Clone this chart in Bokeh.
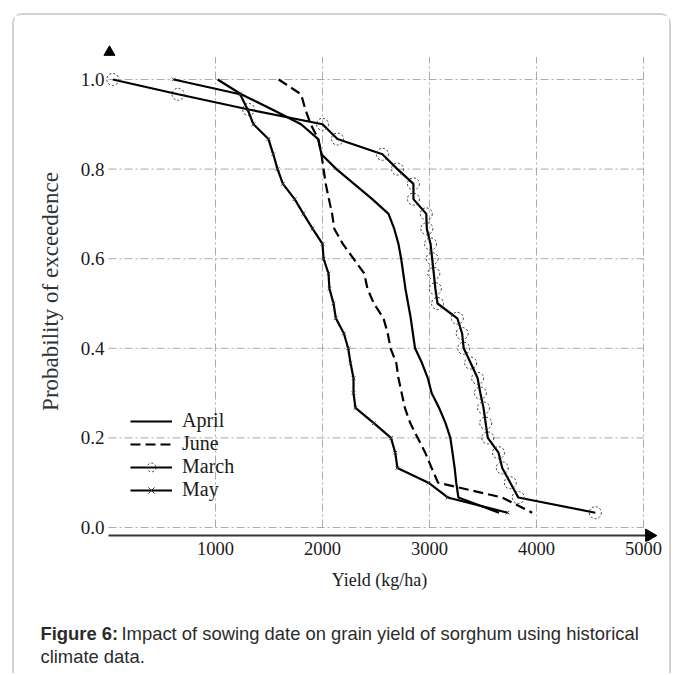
from bokeh.plotting import figure
from bokeh.models import Range1d, FixedTicker, Legend, LegendItem
from bokeh.core.properties import value
from bokeh.embed import file_html
from bokeh.resources import INLINE
import math

# ---------------- data ----------------
prob = [1.0, 0.967, 0.933, 0.9, 0.867, 0.833, 0.8, 0.767, 0.733, 0.7,
        0.667, 0.633, 0.6, 0.567, 0.533, 0.5, 0.467, 0.433, 0.4, 0.367,
        0.333, 0.3, 0.267, 0.233, 0.2, 0.167, 0.133, 0.1, 0.067, 0.033]

march = [40, 650, 1310, 2000, 2140, 2560, 2700, 2850, 2850, 2970,
         2975, 3010, 3025, 3040, 3055, 3075, 3260, 3305, 3320, 3385,
         3450, 3475, 3505, 3525, 3545, 3645, 3680, 3755, 3830, 4550]

april = [1020, 1240, 1530, 1800, 1960, 1990, 2130, 2295, 2465, 2617,
         2670, 2710, 2735, 2755, 2775, 2800, 2825, 2845, 2865, 2930,
         2985, 3020, 3090, 3150, 3195, 3215, 3235, 3250, 3270, 3650]

may = [610, 1230, 1300, 1355, 1495, 1540, 1580, 1630, 1740, 1822,
       1907, 2000, 2010, 2056, 2065, 2103, 2125, 2200, 2240, 2262,
       2290, 2290, 2308, 2480, 2640, 2680, 2700, 2990, 3170, 3730]

june = [1590, 1800, 1840, 1890, 1960, 1990, 2010, 2030, 2060, 2090,
        2110, 2190, 2290, 2390, 2420, 2480, 2570, 2610, 2636, 2690,
        2710, 2740, 2770, 2820, 2890, 2960, 3020, 3080, 3680, 3960]

x_ticks = [1000, 2000, 3000, 4000, 5000]
y_ticks = [0.0, 0.2, 0.4, 0.6, 0.8, 1.0]
y_tick_labels = {0.0: "0.0", 0.2: "0.2", 0.4: "0.4", 0.6: "0.6", 0.8: "0.8", 1.0: "1.0"}

caption_bold = "Figure 6:"
caption_line1 = "Impact of sowing date on grain yield of sorghum using historical"
caption_line2 = "climate data."

BORDER = "2px solid #d2d2d2"

# ---------------- main figure ----------------
SERIF = "Liberation Serif"
p = figure(width=659, height=585, output_backend="svg", toolbar_location=None,
           x_range=Range1d(-93.5, 5159), y_range=Range1d(-0.03125, 1.0848),
           min_border_left=84, min_border_right=13, min_border_top=26,
           min_border_bottom=59, margin=(13, 0, 0, 12),
           styles={"border-left": BORDER, "border-top": BORDER, "border-right": BORDER,
                   "border-top-left-radius": "10px", "border-top-right-radius": "10px"})
p.outline_line_color = None
p.grid.visible = False
p.background_fill_color = "white"
p.border_fill_color = "white"

xa = p.xaxis[0]
xa.ticker = FixedTicker(ticks=x_ticks)
xa.axis_line_color = None
xa.major_tick_line_color = None
xa.minor_tick_line_color = None
xa.major_tick_out = 0
xa.major_label_standoff = 0
xa.major_label_text_font = SERIF
xa.major_label_text_font_size = "18.5px"
xa.major_label_text_color = "#1a1a1a"
xa.axis_label = "Yield (kg/ha)"
xa.axis_label_text_font = SERIF
xa.axis_label_text_font_size = "18px"
xa.axis_label_text_font_style = "normal"
xa.axis_label_text_color = "#1a1a1a"
xa.axis_label_standoff = 12

ya = p.yaxis[0]
ya.ticker = FixedTicker(ticks=y_ticks)
ya.major_label_overrides = y_tick_labels
ya.axis_line_color = None
ya.major_tick_line_color = None
ya.minor_tick_line_color = None
ya.major_tick_out = 0
ya.major_label_standoff = -6
ya.major_label_text_font = SERIF
ya.major_label_text_font_size = "19px"
ya.major_label_text_color = "#1a1a1a"
ya.axis_label = "Probability of exceedence"
ya.axis_label_text_font = SERIF
ya.axis_label_text_font_size = "23px"
ya.axis_label_text_font_style = "normal"
ya.axis_label_text_color = "#333333"
ya.axis_label_standoff = 15

# grid (dash-dot, limited extent)
GRID = dict(line_color="#aaaaaa", line_width=1, line_dash="8 3 2 3")
p.segment(x0=[0] * len(y_ticks), x1=[5000] * len(y_ticks), y0=y_ticks, y1=y_ticks, **GRID)
p.segment(x0=x_ticks, x1=x_ticks, y0=[0] * len(x_ticks), y1=[1.05] * len(x_ticks), **GRID)

# axis line with arrow heads
AXIS_Y = -0.018
p.segment(x0=[0], x1=[5040], y0=[AXIS_Y], y1=[AXIS_Y], line_color="#333333", line_width=2)
p.scatter(x=[5055], y=[AXIS_Y], marker="triangle", size=13, angle=-math.pi / 2,
          fill_color="black", line_color="black")
p.scatter(x=[9], y=[1.061], marker="triangle", size=11,
          fill_color="black", line_color="black")

# series
LW = 2.2
r_april = p.line(april, prob, line_color="black", line_width=LW)
r_june = p.line(june, prob, line_color="black", line_width=LW, line_dash="10 5")
r_march_l = p.line(march, prob, line_color="black", line_width=LW)
r_march_m = p.scatter(march, prob, marker="circle", size=12, fill_color=None,
                      line_color="#333333", line_width=1, line_dash="2 2")
r_may_l = p.line(may, prob, line_color="black", line_width=LW)
r_may_m = p.scatter(may, prob, marker="x", size=5, line_color="#333333", line_width=1)

legend = Legend(items=[
    LegendItem(label="April", renderers=[r_april]),
    LegendItem(label="June", renderers=[r_june]),
    LegendItem(label="March", renderers=[r_march_l, r_march_m]),
    LegendItem(label="May", renderers=[r_may_l, r_may_m]),
], location=(32, 40), padding=0, spacing=0, margin=0,
    label_height=22, glyph_height=22, glyph_width=42, label_standoff=10,
    label_text_font=SERIF, label_text_font_size="20px", label_text_color="#1a1a1a",
    border_line_color=None, background_fill_alpha=0)
p.add_layout(legend, "center")

# ---------------- caption figure (separate root, no border alignment) ----------------
cap = figure(width=659, height=75, output_backend="svg", toolbar_location=None,
             x_range=Range1d(0, 659), y_range=Range1d(0, 75),
             x_axis_location=None, y_axis_location=None,
             min_border=0, min_border_left=0, min_border_right=0,
             min_border_top=0, min_border_bottom=0, margin=(0, 0, 0, 12),
             styles={"border-left": BORDER, "border-right": BORDER})
cap.grid.visible = False
cap.outline_line_color = None
CAP = dict(text_font=value("Liberation Sans"), text_font_size="18.4px",
           text_color="#2b2b2b", text_baseline="alphabetic")
cap.text(x=[26], y=[40], text=[caption_bold], text_font_style="bold", **CAP)
cap.text(x=[107], y=[40], text=[caption_line1], **CAP)
cap.text(x=[26], y=[17], text=[caption_line2], **CAP)

open("out.html", "w").write(file_html([p, cap], INLINE))
